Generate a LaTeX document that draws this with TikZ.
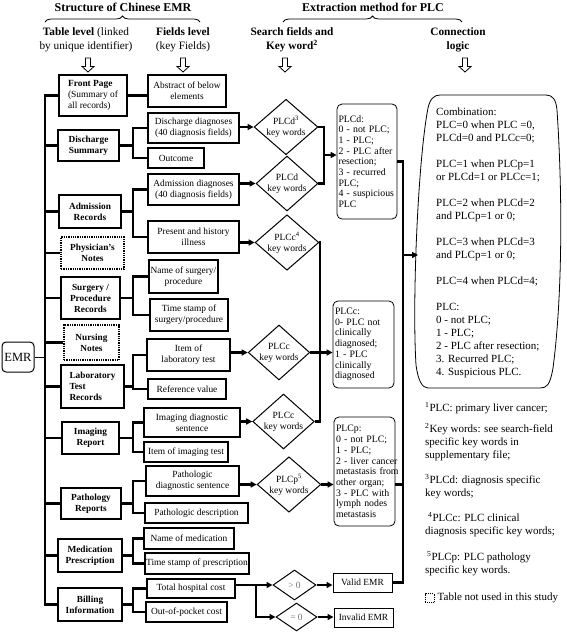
\documentclass[tikz,border=0pt]{standalone}
\usepackage{fontspec}
\setmainfont{Liberation Serif}
\usetikzlibrary{positioning}
\usetikzlibrary{shapes.geometric}
\usetikzlibrary{arrows.meta}
\usetikzlibrary{decorations.pathreplacing}
\tikzset{
  tbl/.style={draw,line width=1.3pt,font=\fontsize{9.3}{11}\selectfont\bfseries,align=center,inner sep=0.5pt},
  unused/.style={tbl,densely dotted},
  fld/.style={draw,line width=1.3pt,font=\fontsize{9.4}{10.6}\selectfont,align=center,inner sep=0.5pt},
  kw/.style={draw,diamond,aspect=1.15,line width=1pt,inner sep=0pt,font=\fontsize{9.5}{11}\selectfont,align=center},
  res/.style={draw,rounded corners=5pt,line width=0.8pt,font=\fontsize{9.8}{10.7}\selectfont,align=left,inner sep=1.5pt,text width=57},
  fork/.style={line width=2.4pt},
  arr/.style={fork,-{Triangle[length=6pt,width=6pt]}},
  hdr/.style={font=\fontsize{11.3}{14}\selectfont,align=center,inner sep=0pt},
  hdrb/.style={hdr,font=\fontsize{11.3}{14}\selectfont\bfseries},
  note/.style={font=\fontsize{11}{12.7}\selectfont,align=left,anchor=north west,inner sep=0pt},
  grp/.style={decorate,decoration={brace,amplitude=6pt},line width=0.8pt}
}
% hollow arrow under a heading
\newcommand\hollowdown[1]{%
  \draw[line width=0.8pt] (#1) ++(-2.5,0) -- ++(5,0) -- ++(0,8.5) -- ++(3.5,0)
    -- ++(-6,5.5) -- ++(-6,-5.5) -- ++(3.5,0) -- cycle;}
% table box joined to its two fields
\newcommand\fieldfork[3]{%
  \draw[fork] (#1.east) -- (#1.east -| jx);
  \draw[fork] (#2.west) -- (#2.west -| jx) -- (#3.west -| jx) -- (#3.west);}

\begin{document}
\begin{tikzpicture}[x=1pt,y=-1pt]
\useasboundingbox (0,0) rectangle (567,634);

% headings
\node[hdrb,font=\fontsize{12}{14}\selectfont\bfseries] (hstruct) at (123,7) {Structure of Chinese EMR};
\node[hdrb,font=\fontsize{12}{14}\selectfont\bfseries] (hextr) at (373,7) {Extraction method for PLC};
\draw[grp] (45,22) -- (200,22);
\draw[grp] (283,22) -- (462,22);
\node[hdr] (htab) at (86,39.5) {\textbf{Table level} (linked\\by unique identifier)};
\node[hdr] (hfld) at (183,39.5) {\textbf{Fields level}\\(key Fields)};
\node[hdrb] (hsrch) at (292,39.5) {Search fields and\\Key word\textsuperscript{2}};
\node[hdrb] (hconn) at (458,39.5) {Connection\\logic};
\hollowdown{88,58}
\hollowdown{183,58}
\hollowdown{285,58}
\hollowdown{465,58}

% table level
\node[draw,rounded corners=4pt,line width=1pt,font=\fontsize{12.5}{14}\selectfont,minimum width=32,minimum height=30,inner sep=1pt] (emr) at (18,357) {EMR};
\node[fld,align=left,minimum width=68,minimum height=41] (front) at (93,95.5) {\textbf{Front Page}\\(Summary of\\all records)};
\node[tbl,minimum width=61,minimum height=31] (disch) at (88.5,145.5) {Discharge\\Summary};
\node[tbl,minimum width=62,minimum height=33] (adm) at (90,211.5) {Admission\\Records};
\node[unused,minimum width=63,minimum height=32] (phys) at (92.5,253) {Physician's\\Notes};
\node[tbl,minimum width=59,minimum height=42] (surg) at (90.5,298) {Surgery /\\Procedure\\Records};
\node[unused,minimum width=55,minimum height=35] (nurs) at (91.5,342.5) {Nursing\\Notes};
\node[tbl,align=left,minimum width=63,minimum height=43] (lab) at (92.5,386.5) {Laboratory\\Test\\Records};
\node[tbl,minimum width=57,minimum height=32] (img) at (90.5,438) {Imaging\\Report};
\node[tbl,minimum width=60,minimum height=31] (path) at (91,503.5) {Pathology\\Reports};
\node[tbl,minimum width=64,minimum height=33] (med) at (90,555.5) {Medication\\Prescription};
\node[tbl,minimum width=64,minimum height=33] (bill) at (90,604.5) {Billing\\Information};

% fields level
\node[fld,minimum width=78,minimum height=32] (abs) at (187,91) {Abstract of below\\elements};
\node[fld,minimum width=91,minimum height=30] (ddiag) at (193.5,128) {Discharge diagnoses\\(40 diagnosis fields)};
\node[fld,minimum width=56,minimum height=20] (outc) at (176,158) {Outcome};
\node[fld,minimum width=91,minimum height=31] (adiag) at (193.5,189.5) {Admission diagnoses\\(40 diagnosis fields)};
\node[fld,minimum width=91,minimum height=32] (hist) at (193.5,237) {Present and history\\illness};
\node[fld,minimum width=69,minimum height=33] (sname) at (183.5,276.5) {Name of surgery/\\procedure};
\node[fld,minimum width=78,minimum height=32] (stime) at (189,315) {Time stamp of\\surgery/procedure};
\node[fld,minimum width=83,minimum height=32] (litem) at (188.5,355) {Item of\\laboratory test};
\node[fld,minimum width=78,minimum height=20] (lref) at (187,389) {Reference value};
\node[fld,minimum width=96,minimum height=29] (idiag) at (192,422.5) {Imaging diagnostic\\sentence};
\node[fld,minimum width=84,minimum height=20] (iitem) at (186,452) {Item of imaging test};
\node[fld,minimum width=93,minimum height=30] (pdiag) at (192.5,481) {Pathologic\\diagnostic sentence};
\node[fld,minimum width=103,minimum height=20] (pdesc) at (196.5,513) {Pathologic description};
\node[fld,minimum width=90,minimum height=21] (mname) at (189,538.5) {Name of medication};
\node[fld,minimum width=104,minimum height=21] (mtime) at (197,563.5) {Time stamp of prescription};
\node[fld,minimum width=88,minimum height=19] (total) at (191,588.5) {Total hospital cost};
\node[fld,minimum width=81,minimum height=20] (pocket) at (186.5,612) {Out-of-pocket cost};

% search fields and key words
\node[kw,minimum width=60,minimum height=52] (kwd1) at (286,127) {PLCd\textsuperscript{3}\\key words};
\node[kw,minimum width=60,minimum height=55] (kwd2) at (287,183.5) {PLCd\\key words};
\node[kw,minimum width=60,minimum height=55] (kwc1) at (287,242.5) {PLCc\textsuperscript{4}\\key words};
\node[kw,minimum width=59,minimum height=55] (kwc2) at (279,352.5) {PLCc\\key words};
\node[kw,minimum width=61,minimum height=55] (kwc3) at (283.5,421.5) {PLCc\\key words};
\node[kw,minimum width=62,minimum height=55] (kwp) at (289,484.5) {PLCp\textsuperscript{5}\\key words};
\node[kw,minimum width=43,minimum height=30,text=black!55] (gtz) at (294.5,585) {> 0};
\node[kw,minimum width=41,minimum height=28,text=black!55] (eqz) at (296.5,617) {= 0};

% results
\node[res,minimum width=60,minimum height=115] (resd) at (367,161.5) {PLCd:\\0 - not PLC;\\1 - PLC;\\\mbox{2 - PLC after}\\resection;\\3 - recurred\\PLC;\\\mbox{4 - suspicious}\\PLC};
\node[res,minimum width=61,minimum height=87] (resc) at (363.5,344.5) {PLCc:\\0- PLC not\\clinically\\diagnosed;\\1 - PLC\\clinically\\diagnosed};
\node[res,minimum width=61,minimum height=109] (resp) at (364.5,471.5) {PLCp:\\0 - not PLC;\\1 - PLC;\\\mbox{2 - liver cancer}\\\mbox{metastasis from}\\other organ;\\3 - PLC with\\lymph nodes\\metastasis};
\node[fld,line width=1pt,minimum width=59,minimum height=19] (valid) at (362.5,582.5) {Valid EMR};
\node[fld,line width=1pt,minimum width=59,minimum height=19] (invalid) at (363.5,617.5) {Invalid EMR};

% connection logic
\draw[line width=0.8pt] (440,95) -- (546,95) .. controls (553,95) and (556,100) .. (557,110)
  .. controls (563,200) and (562,300) .. (553,368) .. controls (550,385) and (547,388) .. (540,388)
  -- (428,388) .. controls (422,388) and (418,380) .. (416,365)
  .. controls (412,300) and (418,160) .. (428,108) .. controls (430,99) and (434,95) .. (440,95) -- cycle;
\node[note,font=\fontsize{11}{13}\selectfont] (comb) at (436,107.5) {Combination:\\PLC=0 when PLC =0,\\PLCd=0 and PLCc=0;\\[13pt]PLC=1 when PLCp=1\\or PLCd=1 or PLCc=1;\\[13pt]PLC=2 when PLCd=2\\and PLCp=1 or 0;\\[13pt]PLC=3 when PLCd=3\\and PLCp=1 or 0;\\[13pt]PLC=4 when PLCd=4;\\[13pt]PLC:\\0 - not PLC;\\1 - PLC;\\2 - PLC after resection;\\3. Recurred PLC;\\4. Suspicious PLC.};

% notes
\node[note] (fn1) at (425,402.5) {\textsuperscript{1}PLC: primary liver cancer;};
\node[note] (fn2) at (425,423.5) {\textsuperscript{2}Key words: see search-field\\specific key words in\\supplementary file;};
\node[note] (fn3) at (425,474.5) {\textsuperscript{3}PLCd: diagnosis specific\\key words;};
\node[note] (fn4) at (425,512.5) {\hspace{3pt}\textsuperscript{4}PLCc: PLC clinical\\diagnosis specific key words;};
\node[note] (fn5) at (425,551.5) {\hspace{2pt}\textsuperscript{5}PLCp: PLC pathology\\specific key words.};
\node[draw,densely dotted,line width=0.9pt,minimum size=9,inner sep=0pt] (legbox) at (429.5,598) {};
\node[note,anchor=west,right=3pt of legbox] (legtxt) {Table not used in this study};

% spine of tables
\coordinate (spx) at (45,0);
\coordinate (jx) at (133,0);
\draw[line width=0.8pt] (emr.east) -- (emr.east -| spx);
\draw[fork] (front.west) -- (front.west -| spx) -- (bill.west -| spx) -- (bill.west);
\foreach \t in {disch,adm,phys,surg,nurs,lab,img,path,med}
  \draw[fork] (\t.west -| spx) -- (\t.west);

% tables to fields
\draw[fork] (front.east) -- (front.east -| abs.west);
\fieldfork{disch}{ddiag}{outc}
\fieldfork{adm}{adiag}{hist}
\fieldfork{surg}{sname}{stime}
\fieldfork{lab}{litem}{lref}
\fieldfork{img}{idiag}{iitem}
\fieldfork{path}{pdiag}{pdesc}
\fieldfork{med}{mname}{mtime}
\fieldfork{bill}{total}{pocket}

% fields to key words
\draw[arr] (ddiag.east |- kwd1.west) -- (kwd1.west);
\draw[arr] (adiag.east |- kwd2.west) -- (kwd2.west);
\draw[arr] (hist.east |- kwc1.west) -- (kwc1.west);
\draw[arr] (litem.east |- kwc2.west) -- (kwc2.west);
\draw[arr] (idiag.east |- kwc3.west) -- (kwc3.west);
\draw[arr] (pdiag.east |- kwp.west) -- (kwp.west);
\coordinate (jb) at (256,0);
\draw[arr] (total.east |- gtz.west) -- (gtz.west);
\draw[arr] (jb |- gtz.west) -- (jb |- eqz.west) -- (eqz.west);

% key words to results
\coordinate (jd) at (324,155);
\draw[fork] (kwd1.east) -| (jd) |- (kwd2.east);
\draw[arr] (jd) -- (jd -| resd.west);
\coordinate (jc) at (320,0);
\draw[fork] (kwc1.east) -- (kwc1.east -| jc) -- (kwc3.east -| jc) -- (kwc3.east);
\draw[arr] (kwc2.east) -- (kwc2.east -| resc.west);
\draw[arr] (kwp.east) -- (kwp.east -| resp.west);
\draw[arr] (gtz.east) -- (gtz.east -| valid.west);
\draw[arr] (eqz.east) -- (eqz.east -| invalid.west);

% results to combination
\coordinate (colx) at (403,0);
\coordinate (combin) at (418,255);
\draw[fork] (resd.east) -- (resd.east -| colx) -- (valid.east -| colx) -- (valid.east);
\draw[fork] (kwp.east -| resp.east) -- (kwp.east -| colx);
\draw[arr] (combin -| colx) -- (combin);
\end{tikzpicture}
\end{document}
